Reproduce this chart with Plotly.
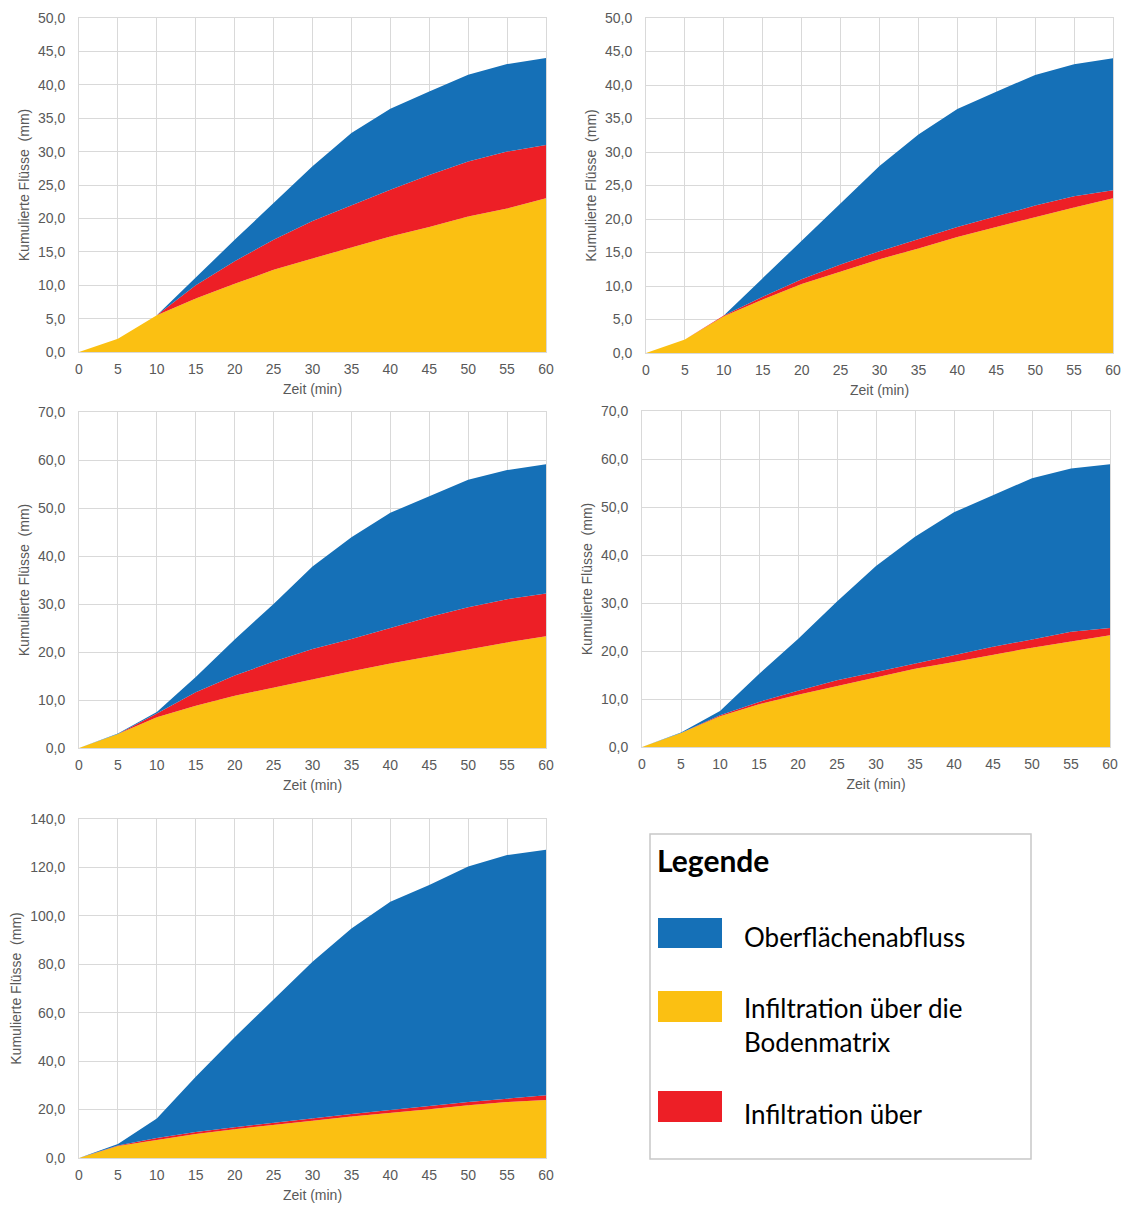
import plotly.graph_objects as go

zeit = [0, 5, 10, 15, 20, 25, 30, 35, 40, 45, 50, 55, 60]
x_ticks = list(range(0, 61, 5))

# Panel 1 (top left) - stacked increments
p1_matrix = [0, 2.0, 5.5, 8.0, 10.2, 12.3, 14.0, 15.6, 17.3, 18.7, 20.3, 21.5, 23.0]
p1_makro = [0, 0, 0, 2.0, 3.4, 4.5, 5.6, 6.4, 7.0, 7.8, 8.2, 8.5, 8.0]
p1_abfluss = [0, 0, 0, 1.2, 3.2, 5.5, 8.2, 10.8, 12.1, 12.5, 13.0, 13.1, 13.0]

# Panel 2 (top right)
p2_matrix = [0, 2.0, 5.5, 8.0, 10.3, 12.2, 14.0, 15.6, 17.3, 18.8, 20.3, 21.7, 23.1]
p2_makro = [0, 0, 0.1, 0.4, 0.7, 1.0, 1.2, 1.4, 1.5, 1.6, 1.7, 1.7, 1.2]
p2_abfluss = [0, 0, 0, 2.8, 5.8, 9.1, 12.7, 15.6, 17.6, 18.6, 19.5, 19.7, 19.7]

# Panel 3 (middle left)
p3_matrix = [0, 2.9, 6.4, 8.8, 10.9, 12.6, 14.4, 16.0, 17.6, 19.1, 20.6, 22.0, 23.3]
p3_makro = [0, 0, 0.8, 2.8, 4.2, 5.4, 6.2, 6.7, 7.4, 8.2, 8.7, 9.0, 8.9]
p3_abfluss = [0, 0.1, 0.3, 3.2, 7.5, 12.0, 17.2, 21.2, 24.0, 25.1, 26.6, 26.9, 26.9]

# Panel 4 (middle right)
p4_matrix = [0, 2.9, 6.4, 8.9, 10.9, 12.7, 14.5, 16.3, 17.7, 19.2, 20.7, 22.0, 23.3]
p4_makro = [0, 0, 0.2, 0.5, 0.8, 1.2, 1.1, 1.1, 1.4, 1.7, 1.7, 2.0, 1.5]
p4_abfluss = [0, 0.1, 0.9, 5.8, 10.8, 16.4, 22.1, 26.4, 29.8, 31.6, 33.6, 34.0, 34.1]

# Panel 5 (bottom left)
p5_matrix = [0, 5.0, 7.4, 9.9, 11.9, 13.5, 15.4, 17.1, 18.5, 20.1, 21.8, 23.1, 24.0]
p5_makro = [0, 0.2, 0.9, 0.8, 0.8, 1.1, 1.1, 1.1, 1.3, 1.4, 1.3, 1.4, 1.9]
p5_abfluss = [0, 0.6, 8.0, 22.9, 37.2, 51.0, 64.5, 76.6, 86.0, 91.2, 97.3, 100.6, 101.4]

panels = [
    (p1_matrix, p1_makro, p1_abfluss),
    (p2_matrix, p2_makro, p2_abfluss),
    (p3_matrix, p3_makro, p3_abfluss),
    (p4_matrix, p4_makro, p4_abfluss),
    (p5_matrix, p5_makro, p5_abfluss),
]
y_max = [50, 50, 70, 70, 140]
y_step = [5, 5, 10, 10, 20]

legend_title = "Legende"
legend_labels = ["Oberflächenabfluss", "Infiltration über die<br>Bodenmatrix", "Infiltration über"]

c_blue = "#1570b7"
c_yellow = "#fbc012"
c_red = "#ed1f26"

W, H = 1125, 1207
OFF = 0  # body margin removed via post_script


def fx(px):
    return (px - OFF) / W


def fy(py):
    return 1 - (py - OFF) / H


# pixel boxes in screenshot coordinates: (left, right, top, bottom)
boxes = [
    (79, 546, 18, 352),
    (646, 1113, 18, 353),
    (79, 546, 412, 748),
    (642, 1110, 411, 747),
    (79, 546, 819, 1158),
]

fig = go.Figure()
tickfont = dict(family="Liberation Sans, Arial, sans-serif", size=14, color="#595959")
titlefont = dict(family="Liberation Sans, Arial, sans-serif", size=14, color="#595959")

for i, (mat, mak, abf) in enumerate(panels):
    n = i + 1
    xa = "x" if n == 1 else f"x{n}"
    ya = "y" if n == 1 else f"y{n}"
    sg = f"s{n}"
    for vals, col, name in [(mat, c_yellow, "Matrix"), (mak, c_red, "Makro"), (abf, c_blue, "Abfluss")]:
        fig.add_trace(go.Scatter(
            x=zeit, y=vals, stackgroup=sg, mode="lines",
            line=dict(width=0, color=col), fillcolor=col,
            xaxis=xa, yaxis=ya, showlegend=False, name=name,
        ))
    l, r, t, b = boxes[i]
    xkey = "xaxis" if n == 1 else f"xaxis{n}"
    ykey = "yaxis" if n == 1 else f"yaxis{n}"
    fig.update_layout(**{
        xkey: dict(
            domain=[fx(l), fx(r)], anchor=ya, range=[0, 60], automargin=False,
            tickvals=x_ticks, showgrid=True, gridcolor="#d9d9d9", gridwidth=1,
            zeroline=False, showline=True, linecolor="#d9d9d9", mirror=True,
            ticks="", tickfont=tickfont, ticklabelstandoff=4,
            title=dict(text="Zeit (min)", font=titlefont, standoff=8),
        ),
        ykey: dict(
            domain=[fy(b), fy(t)], anchor=xa, range=[0, y_max[i]], automargin=False,
            dtick=y_step[i], tick0=0, tickformat=".1f",
            showgrid=True, gridcolor="#d9d9d9", gridwidth=1,
            zeroline=False, showline=True, linecolor="#d9d9d9", mirror=True,
            ticks="", tickfont=tickfont, ticklabelstandoff=10,
            title=dict(text="Kumulierte Flüsse  (mm)", font=titlefont, standoff=5),
        ),
    })

# Legend box
shapes = [dict(type="rect", xref="paper", yref="paper",
               x0=fx(650), x1=fx(1031), y0=fy(1159), y1=fy(834),
               line=dict(color="#c8c8c8", width=1.5), fillcolor="white")]
sw = [(918, 948, c_blue), (991, 1022, c_yellow), (1091, 1122, c_red)]
for (t0, t1, col) in sw:
    shapes.append(dict(type="rect", xref="paper", yref="paper",
                       x0=fx(658), x1=fx(722), y0=fy(t1), y1=fy(t0),
                       line=dict(width=0), fillcolor=col))

annotations = [dict(text="<b>" + legend_title + "</b>", xref="paper", yref="paper",
                    x=fx(655), y=fy(860), xanchor="left", yanchor="middle",
                    showarrow=False, font=dict(family="Lato, sans-serif", size=30, color="black"))]
label_y = [937, 1025, 1114]
for lab, yy in zip(legend_labels, label_y):
    annotations.append(dict(text=lab, xref="paper", yref="paper",
                            x=fx(742), y=fy(yy), xanchor="left", yanchor="middle",
                            align="left", showarrow=False,
                            font=dict(family="Lato, sans-serif", size=26, color="black")))

fig.update_layout(
    width=W, height=H, margin=dict(l=0, r=0, t=0, b=0),
    paper_bgcolor="white", plot_bgcolor="white",
    separators=",.", shapes=shapes, annotations=annotations, showlegend=False,
)

fig.write_html(
    "out.html",
    config={"displayModeBar": False},
    post_script="document.body.style.margin='0';document.body.style.overflow='hidden';",
)
